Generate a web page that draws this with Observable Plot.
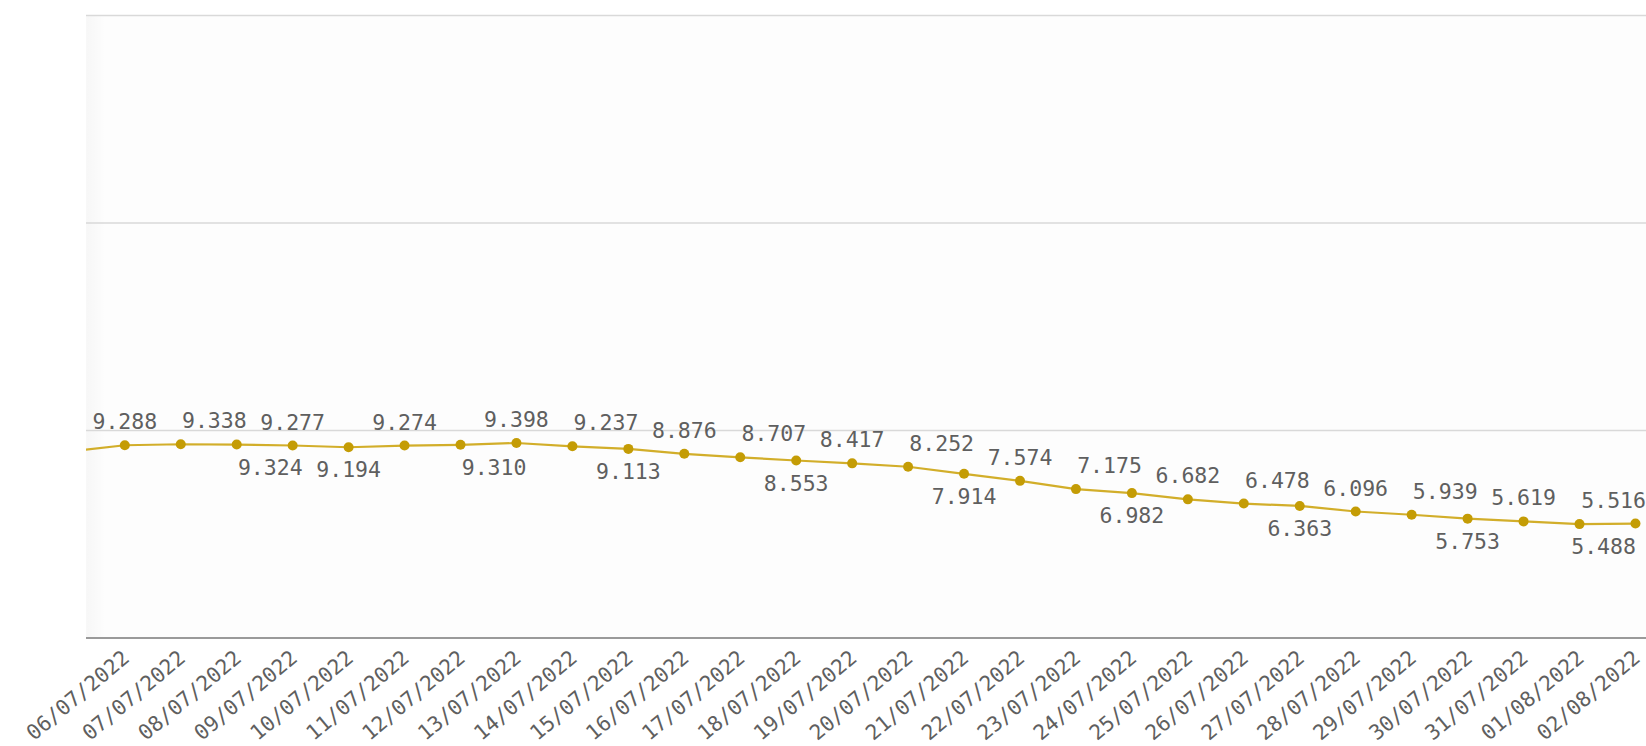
<!DOCTYPE html>
<html><head><meta charset="utf-8">
<script src="https://cdn.jsdelivr.net/npm/d3@7"></script>
<script src="https://cdn.jsdelivr.net/npm/@observablehq/plot@0.6"></script>
<style>html,body{margin:0;padding:0;background:#fff;overflow:hidden}</style>
</head><body><div id="chart"></div>
<script>
// ---- data ----
const dates = ["06/07/2022","07/07/2022","08/07/2022","09/07/2022","10/07/2022","11/07/2022","12/07/2022",
  "13/07/2022","14/07/2022","15/07/2022","16/07/2022","17/07/2022","18/07/2022","19/07/2022","20/07/2022",
  "21/07/2022","22/07/2022","23/07/2022","24/07/2022","25/07/2022","26/07/2022","27/07/2022","28/07/2022",
  "29/07/2022","30/07/2022","31/07/2022","01/08/2022","02/08/2022"];
const values = [9.288,9.338,9.324,9.277,9.194,9.274,9.310,9.398,9.237,9.113,8.876,8.707,8.553,8.417,8.252,
  7.914,7.574,7.175,6.982,6.682,6.478,6.363,6.096,5.939,5.753,5.619,5.488,5.516];
// previous day (05/07/2022), scrolled out of view: only its line segment shows at the left edge (estimated)
const leadInValue = 8.98;
const yTicks = [0, 10, 20, 30];

// ---- label layout (Qlik-style collision avoidance, as seen in the reference) ----
const labelSide = ["a","a","b","a","b","a","b","a","a","b","a","a","b","a","a","b","a","a","b","a","a","b","a","a","b","a","b","a"];
const labelShift = [0,0.6,0.6,0,0,0,0.6,0,0.6,0,0,0.6,0,0,0.6,0,0,0.6,0,0,0.6,0,0,0.6,0,0,0.43,-0.39];

const idx = d3.range(dates.length);
const pts = idx.map(i => ({i, v: values[i], label: values[i].toFixed(3), side: labelSide[i], s: labelShift[i]}));
const linePts = [{i: -1, v: leadInValue}, ...pts];

const FONT = "DejaVu Sans Mono";
const W = 1646, H = 746;
const step = 55.95, first = 124.3, left = 86;

const plot = Plot.plot({
  width: W, height: H,
  marginLeft: left, marginRight: 0, marginTop: 15, marginBottom: 108.5,
  style: {fontFamily: FONT, background: "#fff", overflow: "hidden"},
  x: {type: "linear", domain: [(left - first) / step, 27 + (W - (first + 27 * step)) / step], axis: null},
  y: {domain: [0, 30], axis: null},
  marks: [
    Plot.frame({fill: "#fdfdfd", stroke: null}),
    Plot.ruleY(yTicks.filter(t => t > 0), {stroke: "#d9d9d9", strokeWidth: 1.5}),
    Plot.ruleY([0], {stroke: "#9a9a9a", strokeWidth: 2}),
    Plot.line(linePts, {x: "i", y: "v", stroke: "#d2ae2a", strokeWidth: 2.2, clip: true}),
    Plot.dot(pts, {x: "i", y: "v", r: 5, fill: "#c49c05", stroke: null, clip: true}),
    Plot.text(pts.filter(d => d.side === "a"), {x: d => d.i + d.s, y: "v", text: "label", fontSize: 21.5, fill: "#5f5f5f", lineAnchor: "bottom", dy: -16}),
    Plot.text(pts.filter(d => d.side === "b"), {x: d => d.i + d.s, y: "v", text: "label", fontSize: 21.5, fill: "#5f5f5f", lineAnchor: "bottom", dy: 30}),
    Plot.axisX({ticks: idx, tickFormat: i => dates[i], tickRotate: -40, tickSize: 0, tickPadding: 0, label: null,
      textAnchor: "end", lineAnchor: "bottom", dx: 6, dy: 22, fontSize: 21, fill: "#5f5f5f"})
  ]
});

// subtle scroll shadow at the left edge of the plot area
const xs = plot.scale("x"), ys = plot.scale("y");
const svg = d3.select(plot);
const defs = svg.insert("defs", ":first-child");
const g = defs.append("linearGradient").attr("id", "lshadow").attr("x1", 0).attr("x2", 1).attr("y1", 0).attr("y2", 0);
g.append("stop").attr("offset", 0).attr("stop-color", "#000").attr("stop-opacity", 0.025);
g.append("stop").attr("offset", 1).attr("stop-color", "#000").attr("stop-opacity", 0);
svg.insert("rect", "g").attr("x", xs.range[0]).attr("y", ys.range[1]).attr("width", 20)
  .attr("height", ys.range[0] - ys.range[1]).attr("fill", "url(#lshadow)");
document.getElementById("chart").appendChild(plot);
</script>
</body></html>
